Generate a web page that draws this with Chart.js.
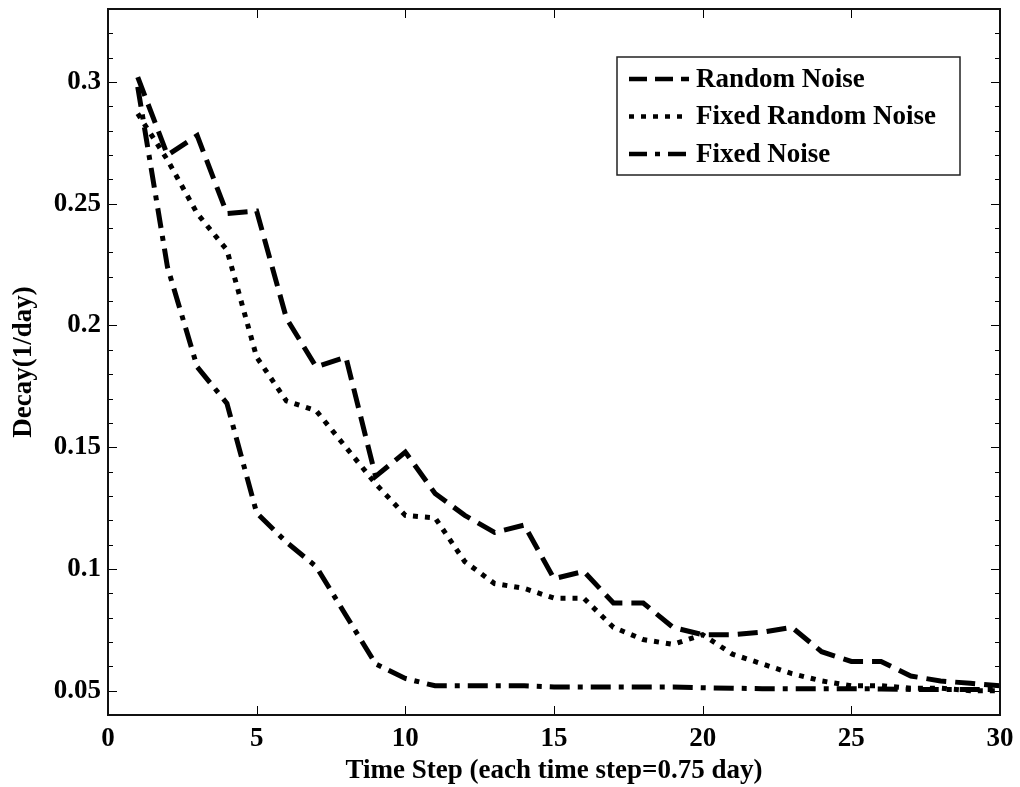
<!DOCTYPE html>
<html>
<head>
<meta charset="utf-8">
<script src="https://cdn.jsdelivr.net/npm/chart.js@4"></script>
<style>
  html, body { margin: 0; padding: 0; background: #fff; }
  #wrap { width: 1020px; height: 787px; position: relative; }
</style>
</head>
<body>
<div id="wrap"><canvas id="decayChart"></canvas></div>
<script>
// time steps (each step = 0.75 day)
const steps = [1, 2, 3, 4, 5, 6, 7, 8, 9, 10, 11, 12, 13, 14, 15,
               16, 17, 18, 19, 20, 21, 22, 23, 24, 25, 26, 27, 28, 29, 30];

const randomNoise = [0.302, 0.270, 0.278, 0.246, 0.247, 0.203, 0.183, 0.187, 0.138, 0.148,
                     0.131, 0.122, 0.115, 0.118, 0.096, 0.099, 0.086, 0.086, 0.076, 0.073,
                     0.073, 0.074, 0.076, 0.066, 0.062, 0.062, 0.056, 0.054, 0.053, 0.052];

const fixedRandomNoise = [0.287, 0.268, 0.246, 0.231, 0.187, 0.169, 0.165, 0.150, 0.135, 0.122,
                          0.121, 0.103, 0.094, 0.092, 0.088, 0.088, 0.076, 0.071, 0.069, 0.073,
                          0.065, 0.061, 0.057, 0.054, 0.052, 0.052, 0.051, 0.051, 0.050, 0.050];

const fixedNoise = [0.298, 0.224, 0.183, 0.168, 0.123, 0.111, 0.101, 0.081, 0.061, 0.055,
                    0.052, 0.052, 0.052, 0.052, 0.0515, 0.0515, 0.0515, 0.0515, 0.0515, 0.0512,
                    0.051, 0.0508, 0.0508, 0.0508, 0.0508, 0.0507, 0.0505, 0.0505, 0.0505, 0.0505];

const seriesNames = ['Random Noise', 'Fixed Random Noise', 'Fixed Noise'];
const xTickLabels = ['0', '5', '10', '15', '20', '25', '30'];
const yTickLabels = ['0.05', '0.1', '0.15', '0.2', '0.25', '0.3'];

const FONT = "'Liberation Serif', 'Times New Roman', serif";

function toPoints(ys) {
    return ys.map((y, i) => ({ x: steps[i], y: y }));
}

function lineSet(label, ys, dash) {
    return {
        label: label,
        data: toPoints(ys),
        borderColor: '#000',
        borderWidth: 5,
        borderDash: dash,
        borderCapStyle: 'butt',
        borderJoinStyle: 'miter',
        pointRadius: 0,
        tension: 0,
        fill: false
    };
}

// box round the plot with inward tick marks, matlab style
const axesBox = {
    id: 'axesBox',
    afterDraw(chart) {
        const ctx = chart.ctx;
        const a = chart.chartArea;
        const xs = chart.scales.x;
        const ys = chart.scales.y;
        ctx.save();
        ctx.strokeStyle = '#000';
        ctx.lineWidth = 1;
        ctx.beginPath();
        ys.ticks.forEach(t => {
            const py = Math.round(ys.getPixelForValue(t.value)) + 0.5;
            const major = Math.round(t.value * 100) % 5 === 0;
            const len = major ? 9 : 5;
            ctx.moveTo(a.left, py); ctx.lineTo(a.left + len, py);
            ctx.moveTo(a.right, py); ctx.lineTo(a.right - len, py);
        });
        xs.ticks.forEach(t => {
            const px = Math.round(xs.getPixelForValue(t.value)) + 0.5;
            ctx.moveTo(px, a.bottom); ctx.lineTo(px, a.bottom - 9);
            ctx.moveTo(px, a.top); ctx.lineTo(px, a.top + 9);
        });
        ctx.stroke();
        ctx.lineWidth = 2;
        ctx.strokeStyle = '#111';
        ctx.strokeRect(a.left, a.top, a.right - a.left, a.bottom - a.top);
        ctx.restore();
    }
};

// legend box in the upper right of the plot
const boxLegend = {
    id: 'boxLegend',
    afterDraw(chart) {
        const ctx = chart.ctx;
        const x0 = 617, y0 = 57, w = 343, h = 118;
        ctx.save();
        ctx.fillStyle = '#fff';
        ctx.fillRect(x0, y0, w, h);
        ctx.strokeStyle = '#222';
        ctx.lineWidth = 1.5;
        ctx.strokeRect(x0, y0, w, h);
        ctx.font = 'bold 27px ' + FONT;
        ctx.textBaseline = 'middle';
        ctx.fillStyle = '#000';
        chart.data.datasets.forEach((ds, i) => {
            const ly = y0 + 22 + i * 37.5;
            ctx.beginPath();
            ctx.setLineDash(ds.legendDash);
            ctx.lineWidth = 4.5;
            ctx.strokeStyle = '#000';
            ctx.moveTo(x0 + 12, ly);
            ctx.lineTo(x0 + 72, ly);
            ctx.stroke();
            ctx.setLineDash([]);
            ctx.fillText(ds.label, x0 + 79, ly + 1);
        });
        ctx.restore();
    }
};

const datasets = [
    lineSet(seriesNames[0], randomNoise, [20, 9]),
    lineSet(seriesNames[1], fixedRandomNoise, [5, 7]),
    lineSet(seriesNames[2], fixedNoise, [20, 8, 5, 8])
];
datasets[0].legendDash = [18, 8];
datasets[1].legendDash = [5, 7];
datasets[2].legendDash = [18, 8, 5, 8];

new Chart(document.getElementById('decayChart'), {
    type: 'line',
    data: { datasets: datasets },
    options: {
        responsive: true,
        maintainAspectRatio: false,
        animation: false,
        layout: { padding: { top: 9, right: 20, left: 0, bottom: 0 } },
        plugins: {
            legend: { display: false },
            tooltip: { enabled: false }
        },
        scales: {
            x: {
                type: 'linear',
                min: 0,
                max: 30,
                grid: { display: false, drawTicks: false },
                border: { display: false },
                afterFit(scale) {
                    scale.height = 72;
                    scale.paddingLeft = 0;
                    scale.paddingRight = 0;
                },
                ticks: {
                    stepSize: 5,
                    autoSkip: false,
                    maxRotation: 0,
                    padding: 8,
                    color: '#000',
                    font: { family: FONT, size: 27, weight: 'bold' },
                    callback: (v) => xTickLabels[Math.round(v / 5)]
                },
                title: {
                    display: true,
                    text: 'Time Step (each time step=0.75 day)',
                    color: '#000',
                    padding: { top: 0, bottom: 0 },
                    font: { family: FONT, size: 27, weight: 'bold' }
                }
            },
            y: {
                min: 0.04,
                max: 0.33,
                grid: { display: false, drawTicks: false },
                border: { display: false },
                afterFit(scale) {
                    scale.width = 108;
                    scale.paddingTop = 0;
                    scale.paddingBottom = 0;
                },
                ticks: {
                    stepSize: 0.01,
                    autoSkip: false,
                    padding: 7,
                    color: '#000',
                    font: { family: FONT, size: 27, weight: 'bold' },
                    callback: (v) => {
                        const k = Math.round(v * 100);
                        return k % 5 === 0 ? yTickLabels[k / 5 - 1] : '';
                    }
                },
                title: {
                    display: true,
                    text: 'Decay(1/day)',
                    color: '#000',
                    padding: { top: 8, bottom: 0 },
                    font: { family: FONT, size: 27, weight: 'bold' }
                }
            }
        }
    },
    plugins: [axesBox, boxLegend]
});
</script>
</body>
</html>
